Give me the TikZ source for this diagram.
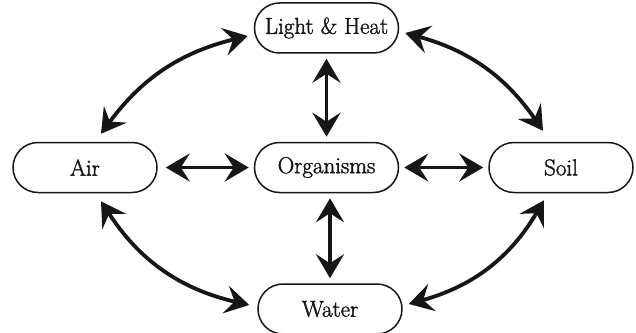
\documentclass[tikz,border=0pt]{standalone}
\usepackage{fontspec}
\usetikzlibrary{arrows.meta,positioning,shapes.misc}
\newfontfamily\placefont{Latin Modern Roman}[FakeBold=1.6]
\definecolor{diagramText}{HTML}{141414}
\definecolor{diagramLine}{HTML}{161616}
\newcommand{\placelabel}[1]{{\placefont\fontsize{23}{26}\selectfont\color{diagramText}#1}}

\begin{document}
\begin{tikzpicture}[
  place/.style={
    draw=diagramLine,
    rounded rectangle,
    minimum width=148pt,
    minimum height=50pt,
    inner sep=2pt,
    line width=1.5pt
  },
  link/.style={
    {Stealth[length=24pt,width=28pt,inset=9pt]}-{Stealth[length=24pt,width=28pt,inset=9pt]},
    draw=diagramLine,
    line width=3.8pt
  },
  straight/.style={link, shorten <=5pt, shorten >=5pt}
]
\useasboundingbox (-326.5pt,-164.5pt) rectangle (309.5pt,167.5pt);

\node[place] (org) {\placelabel{Organisms}};
\node[place, above=88pt of org] (light) {\placelabel{Light \& Heat}};
\node[place, below=90pt of org, xshift=3.5pt] (water) {\placelabel{Water}};
\node[place, left=96pt of org] (air) {\placelabel{Air}};
\node[place, right=89pt of org] (soil) {\placelabel{Soil}};

% Direct exchange with the organisms.
\draw[straight] ([xshift=3pt]air.east) -- (org.west);
\draw[straight] (org.east) -- (soil.west);
\draw[straight] (light.south) -- (org.north);
\draw[straight] ([xshift=3.5pt]org.south) -- (water.north);

% Outer ring of exchanges between the surroundings.
\draw[link] ([shift={(16pt,8pt)}]air.north) to[bend left=20]
  ([shift={(-6pt,-8pt)}]light.west);
\draw[link] ([shift={(6pt,-5pt)}]light.east) to[bend left=20]
  ([shift={(-18pt,11pt)}]soil.north);
\draw[link] ([shift={(16pt,-8pt)}]air.south) to[bend right=22]
  ([shift={(-8pt,4pt)}]water.west);
\draw[link] ([shift={(-17pt,-7pt)}]soil.south) to[bend left=22]
  ([shift={(6pt,5pt)}]water.east);

\end{tikzpicture}
\end{document}
